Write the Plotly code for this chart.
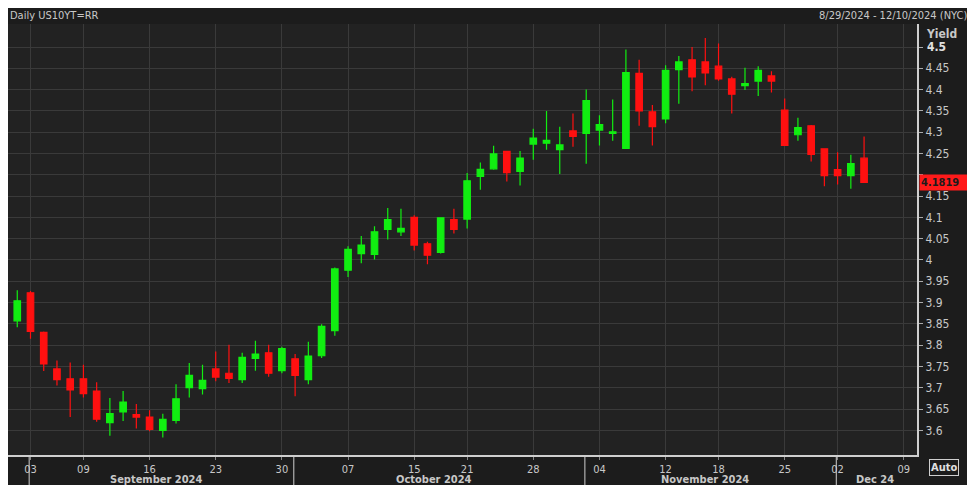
import plotly.graph_objects as go

dates = ["2024-08-29","2024-08-30","2024-09-03","2024-09-04","2024-09-05","2024-09-06","2024-09-09","2024-09-10","2024-09-11","2024-09-12","2024-09-13",
"2024-09-16","2024-09-17","2024-09-18","2024-09-19","2024-09-20","2024-09-23","2024-09-24","2024-09-25","2024-09-26","2024-09-27","2024-09-30",
"2024-10-01","2024-10-02","2024-10-03","2024-10-04","2024-10-07","2024-10-08","2024-10-09","2024-10-10","2024-10-11","2024-10-15","2024-10-16","2024-10-17","2024-10-18",
"2024-10-21","2024-10-22","2024-10-23","2024-10-24","2024-10-25","2024-10-28","2024-10-29","2024-10-30","2024-10-31","2024-11-01",
"2024-11-04","2024-11-05","2024-11-06","2024-11-07","2024-11-08","2024-11-12","2024-11-13","2024-11-14","2024-11-15","2024-11-18","2024-11-19","2024-11-20","2024-11-21","2024-11-22",
"2024-11-25","2024-11-26","2024-11-27","2024-11-29","2024-12-02","2024-12-03","2024-12-04"]
future_dates = ["2024-12-05","2024-12-06","2024-12-09","2024-12-10"]

opens  = [3.824,3.857,3.923,3.830,3.744,3.721,3.721,3.692,3.618,3.643,3.637,3.631,3.600,3.623,3.700,3.698,3.744,3.734,3.719,3.769,3.782,3.740,
          3.768,3.719,3.775,3.834,3.976,4.015,4.013,4.072,4.066,4.100,4.038,4.018,4.095,4.096,4.196,4.214,4.255,4.208,4.272,4.274,4.259,4.303,4.297,
          4.305,4.297,4.262,4.438,4.348,4.331,4.447,4.470,4.465,4.455,4.425,4.409,4.420,4.432,4.352,4.294,4.315,4.261,4.212,4.198,4.239]
highs  = [3.880,3.929,3.927,3.832,3.764,3.759,3.754,3.713,3.676,3.692,3.662,3.647,3.639,3.708,3.758,3.754,3.785,3.801,3.782,3.810,3.801,3.796,
          3.779,3.808,3.849,3.982,4.032,4.056,4.079,4.122,4.120,4.105,4.043,4.100,4.120,4.204,4.229,4.268,4.256,4.256,4.308,4.350,4.313,4.344,4.400,
          4.340,4.377,4.494,4.470,4.364,4.457,4.479,4.500,4.521,4.508,4.430,4.451,4.455,4.443,4.379,4.334,4.317,4.262,4.253,4.247,4.290]
lows   = [3.803,3.842,3.815,3.739,3.705,3.631,3.677,3.620,3.587,3.622,3.604,3.598,3.583,3.616,3.677,3.684,3.715,3.711,3.711,3.740,3.726,3.734,
          3.680,3.708,3.770,3.822,3.960,3.992,4.001,4.048,4.056,4.022,3.990,4.015,4.062,4.074,4.165,4.212,4.184,4.175,4.235,4.259,4.202,4.266,4.226,
          4.269,4.280,4.262,4.315,4.269,4.321,4.367,4.396,4.410,4.421,4.344,4.399,4.385,4.393,4.269,4.280,4.231,4.173,4.177,4.167,4.1819]
closes = [3.860,3.904,3.832,3.756,3.719,3.695,3.686,3.626,3.639,3.666,3.631,3.602,3.626,3.674,3.729,3.717,3.725,3.722,3.771,3.779,3.734,3.792,
          3.729,3.774,3.844,3.979,4.025,4.035,4.066,4.095,4.074,4.035,4.011,4.099,4.072,4.186,4.213,4.249,4.205,4.239,4.286,4.281,4.270,4.290,4.374,
          4.318,4.301,4.440,4.350,4.313,4.445,4.465,4.430,4.439,4.425,4.389,4.414,4.445,4.420,4.269,4.311,4.248,4.198,4.198,4.226,4.1819]

tick_dates = ["2024-09-03","2024-09-09","2024-09-16","2024-09-23","2024-09-30","2024-10-07","2024-10-15","2024-10-21","2024-10-28",
              "2024-11-04","2024-11-12","2024-11-18","2024-11-25","2024-12-02","2024-12-09"]
tick_labels = [d[-2:] for d in tick_dates]
months = ["September 2024","October 2024","November 2024","Dec 24"]
month_starts = ["2024-09-03","2024-10-01","2024-11-01","2024-12-02"]
month_ends = ["2024-09-30","2024-10-31","2024-11-29","2024-12-10"]
y_ticks = [3.6,3.65,3.7,3.75,3.8,3.85,3.9,3.95,4.0,4.05,4.1,4.15,4.2,4.25,4.3,4.35,4.4,4.45,4.5]
last_price = 4.1819

all_dates = dates + future_dates
idx = {d: i for i, d in enumerate(all_dates)}
xs = [idx[d] for d in dates]

GREEN = "#11ee11"; RED = "#ff1010"; TXT = "#c8c8c8"; FONT = "Liberation Sans Narrow, DejaVu Sans Condensed, Arial Narrow, sans-serif"

fig = go.Figure(go.Candlestick(
    x=xs, open=opens, high=highs, low=lows, close=closes,
    increasing=dict(line=dict(color=GREEN, width=1.2), fillcolor=GREEN),
    decreasing=dict(line=dict(color=RED, width=1.2), fillcolor=RED),
    whiskerwidth=0, hoverinfo="skip"))

ytext = [("%g" % v) if v not in (4.5, 4.2) else "" for v in y_ticks]

fig.update_layout(
    width=967, height=477, margin=dict(l=0, r=58, t=16, b=30),
    paper_bgcolor="#1c1c1c", plot_bgcolor="#222222", showlegend=False,
    font=dict(family=FONT, color=TXT, size=11),
    xaxis=dict(range=[0.3, 69.0], rangeslider=dict(visible=False), tickmode="array",
               tickvals=[idx[d] for d in tick_dates], ticktext=tick_labels,
               showgrid=True, gridcolor="#3a3a3a", gridwidth=1, ticks="outside", tickcolor="#888",
               ticklen=3, showline=True, linecolor="#cfcfcf", linewidth=2, zeroline=False,
               tickfont=dict(size=11, color=TXT)),
    yaxis=dict(range=[3.542, 4.554], side="right", tickmode="array", tickvals=y_ticks,
               ticktext=ytext, showgrid=True, gridcolor="#3a3a3a",
               ticks="outside", tickcolor="#aaa", ticklen=4, showline=True, linecolor="#cfcfcf",
               linewidth=2, zeroline=False, tickfont=dict(size=12, color=TXT)),
)

anns = [
    dict(text="Daily US10YT=RR", x=0, y=1, xref="paper", yref="paper", xanchor="left", yanchor="bottom", yshift=0, showarrow=False, font=dict(size=11, color=TXT)),
    dict(text="8/29/2024 - 12/10/2024 (NYC)", x=1, y=1, xref="paper", yref="paper", xanchor="right", yanchor="bottom", xshift=52, yshift=0, showarrow=False, font=dict(size=11, color=TXT)),
    dict(text="<b>Yield</b>", x=1, y=1, xref="paper", yref="paper", xanchor="left", yanchor="top", xshift=7, yshift=-1, showarrow=False, font=dict(size=12, color=TXT)),
    dict(text="<b>4.5</b>", x=1, y=4.5, xref="paper", yref="y", xanchor="left", xshift=8, showarrow=False, font=dict(size=12, color="#e0e0e0")),
    dict(text="<b>%.4f</b>" % last_price, x=1, y=last_price, xref="paper", yref="y", xanchor="left", xshift=2, showarrow=False, font=dict(size=11, color="#1c1c1c"), bgcolor="#ff1a1a", width=52, align="left"),
    dict(text="<b>Auto</b>", x=1, y=0, xref="paper", yref="paper", xanchor="left", yanchor="top", xshift=12, yshift=-4, showarrow=False, font=dict(size=11, color="#e0e0e0"), bordercolor="#cfcfcf", borderwidth=1, borderpad=1),
]
for m, s, e in zip(months, month_starts, month_ends):
    anns.append(dict(text="<b>%s</b>" % m, x=(idx[s] + min(idx[e], 68.6)) / 2, y=0, xref="x", yref="paper", yanchor="top", yshift=-16, showarrow=False, font=dict(size=11, color=TXT)))
fig.update_layout(annotations=anns)

shapes = []
for s in month_starts:
    shapes.append(dict(type="line", xref="x", yref="paper", x0=idx[s]-0.1, x1=idx[s]-0.1, y0=0, y1=-0.075, line=dict(color="#cfcfcf", width=1)))
fig.update_layout(shapes=shapes)

fig.write_html("out.html")
